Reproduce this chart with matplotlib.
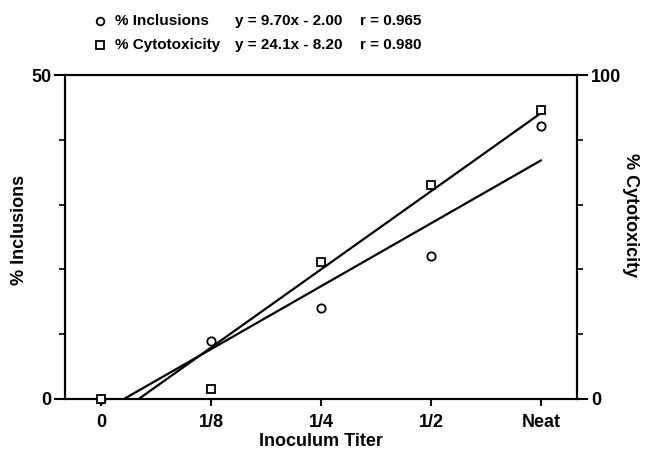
import matplotlib.pyplot as plt
from matplotlib.lines import Line2D
import numpy as np

titers = ['0', '1/8', '1/4', '1/2', 'Neat']
inclusions = [0.0, 9.0, 14.1, 22.1, 42.1]
cytotoxicity = [0.0, 3.1, 42.3, 65.9, 89.2]
incl_fit = (9.70, -2.00)
cyto_fit = (24.1, -8.20)

plt.rcParams['font.family'] = ['Liberation Sans', 'DejaVu Sans']
plt.rcParams['font.weight'] = 'bold'

fig = plt.figure(figsize=(6.45, 4.51), dpi=100)
ax1 = fig.add_axes([0.1008, 0.1153, 0.7938, 0.7184])
ax2 = ax1.twinx()

x = np.arange(len(titers))

# fit lines, starting where they cross zero
x0 = -incl_fit[1] / incl_fit[0]
ax1.plot([x0, x[-1]], [0, incl_fit[0] * x[-1] + incl_fit[1]], color='black', lw=1.6)
x0 = -cyto_fit[1] / cyto_fit[0]
ax2.plot([x0, x[-1]], [0, cyto_fit[0] * x[-1] + cyto_fit[1]], color='black', lw=1.6)

ax1.plot(x, inclusions, 'o', mfc='white', mec='black', mew=1.3, ms=6, clip_on=False, zorder=5)
ax2.plot(x, cytotoxicity, 's', mfc='white', mec='black', mew=1.3, ms=6, clip_on=False, zorder=5)

ax1.set_xlim(-0.33, 4.33)
ax1.set_ylim(0, 50)
ax2.set_ylim(0, 100)

ax1.set_xticks(x)
ax1.set_xticklabels(titers)
ax1.set_yticks([0, 50])
ax1.set_yticks([10, 20, 30, 40], minor=True)
ax2.set_yticks([0, 100])
ax2.set_yticks([20, 40, 60, 80], minor=True)

for ax in (ax1, ax2):
    for s in ax.spines.values():
        s.set_linewidth(1.5)
    ax.tick_params(which='major', length=8, width=1.5, labelsize=13, pad=2)
    ax.tick_params(which='minor', length=4, width=1.2)
ax1.tick_params(axis='x', length=5, pad=6)

ax1.set_xlabel('Inoculum Titer', fontsize=13, fontweight='bold', labelpad=1)
fig.text(20 / 645, 0.49, '% Inclusions', fontsize=13, rotation=90, ha='center', va='center')
fig.text(630 / 645, 0.523, '% Cytotoxicity', fontsize=13, rotation=270, ha='center', va='center')

# legend text block at the top
fs = 11
r1, r2 = 0.953, 0.900
fig.add_artist(Line2D([0.155], [r1], marker='o', ms=5.5, mfc='white', mec='black',
                      mew=1.3, ls='none', transform=fig.transFigure))
fig.add_artist(Line2D([0.155], [r2], marker='s', ms=5.5, mfc='white', mec='black',
                      mew=1.3, ls='none', transform=fig.transFigure))
fig.text(0.178, r1, '% Inclusions', fontsize=fs, va='center')
fig.text(0.178, r2, '% Cytotoxicity', fontsize=fs, va='center')
fig.text(0.364, r1, 'y = %.2fx - %.2f' % (incl_fit[0], -incl_fit[1]), fontsize=fs, va='center')
fig.text(0.364, r2, 'y = %.1fx - %.2f' % (cyto_fit[0], -cyto_fit[1]), fontsize=fs, va='center')
fig.text(0.558, r1, 'r = 0.965', fontsize=fs, va='center')
fig.text(0.558, r2, 'r = 0.980', fontsize=fs, va='center')

fig.savefig('out.png', dpi=100)
